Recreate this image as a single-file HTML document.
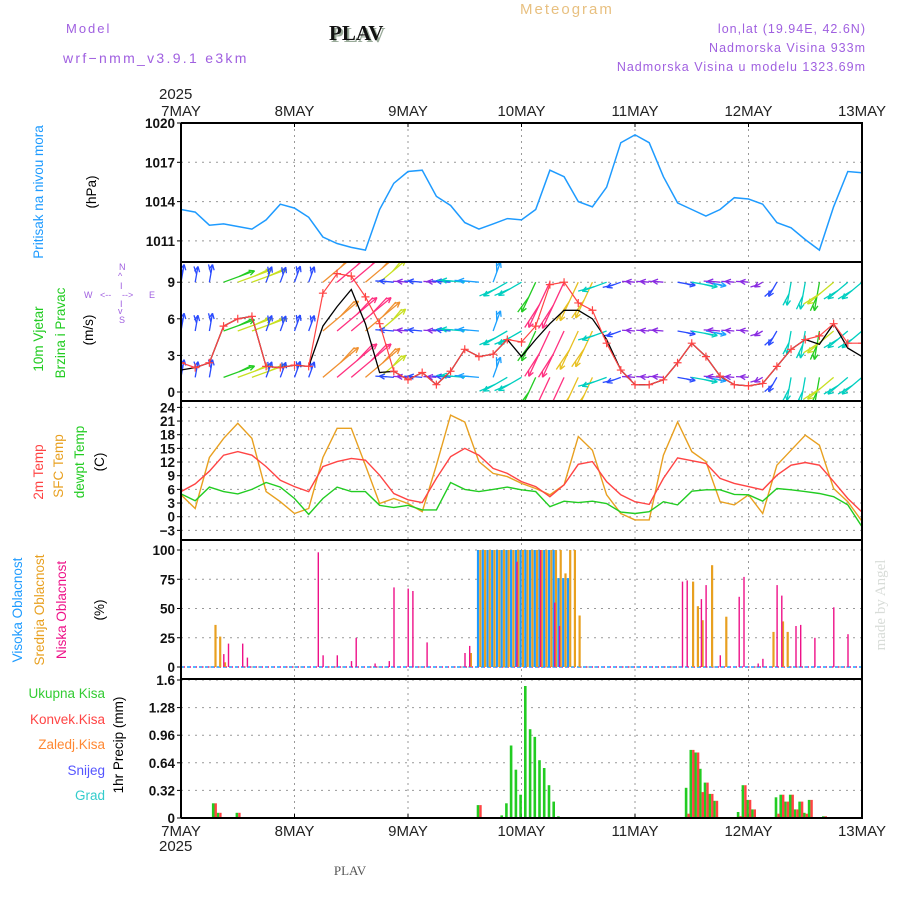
<!DOCTYPE html>
<html><head><meta charset="utf-8"><style>
body{margin:0;background:#fff;}
svg{display:block;font-family:"Liberation Sans",sans-serif;}
</style></head><body>
<svg id="chart" width="900" height="900" viewBox="0 0 900 900">
<g id="header">
<text x="520" y="14" fill="#e8c080" font-size="15" letter-spacing="2">Meteogram</text>
<text x="66" y="33" fill="#a060e0" font-size="13" letter-spacing="2">Model</text>
<text x="63" y="63" fill="#a060e0" font-size="14" letter-spacing="2.3">wrf−nmm_v3.9.1 e3km</text>
<text x="331" y="42" fill="#9a9" font-size="21" font-weight="bold" font-family="Liberation Serif,serif">PLAV</text>
<text x="329" y="40" fill="#111" font-size="21" font-weight="bold" font-family="Liberation Serif,serif">PLAV</text>
<text x="866" y="33" fill="#a060e0" font-size="12.5" letter-spacing="1" text-anchor="end">lon,lat (19.94E, 42.6N)</text>
<text x="866" y="52" fill="#a060e0" font-size="12.5" letter-spacing="1" text-anchor="end">Nadmorska Visina 933m</text>
<text x="866" y="71" fill="#a060e0" font-size="12.5" letter-spacing="1" text-anchor="end">Nadmorska Visina u modelu 1323.69m</text>
<text x="159" y="99" fill="#222" font-size="15">2025</text>
<text x="159" y="851" fill="#222" font-size="15">2025</text>
<text x="350" y="875" fill="#555" font-size="13" font-family="Liberation Serif,serif" text-anchor="middle">PLAV</text>
<text transform="translate(885,605) rotate(-90)" fill="#d8dcd8" font-size="15" text-anchor="middle" font-family="Liberation Serif,serif">made by Angel</text>
</g>
<g id="labels" font-size="13.5">
<text transform="translate(43,192) rotate(-90)" fill="#1e9bff" text-anchor="middle">Pritisak na nivou mora</text>
<text transform="translate(96,192) rotate(-90)" fill="#000" text-anchor="middle">(hPa)</text>
<text transform="translate(43,339) rotate(-90)" fill="#22cc22" text-anchor="middle">10m Vjetar</text>
<text transform="translate(65,333) rotate(-90)" fill="#22cc22" text-anchor="middle">Brzina i Pravac</text>
<text transform="translate(93,330) rotate(-90)" fill="#000" text-anchor="middle">(m/s)</text>
<text transform="translate(43,472) rotate(-90)" fill="#ff4444" text-anchor="middle">2m Temp</text>
<text transform="translate(63,466) rotate(-90)" fill="#e8a020" text-anchor="middle">SFC Temp</text>
<text transform="translate(84,462) rotate(-90)" fill="#22cc22" text-anchor="middle">dewpt Temp</text>
<text transform="translate(104,462) rotate(-90)" fill="#000" text-anchor="middle">(C)</text>
<text transform="translate(22,610) rotate(-90)" fill="#1e9bff" text-anchor="middle">Visoka Oblacnost</text>
<text transform="translate(44,610) rotate(-90)" fill="#e8a020" text-anchor="middle">Srednja Oblacnost</text>
<text transform="translate(66,610) rotate(-90)" fill="#ee1188" text-anchor="middle">Niska Oblacnost</text>
<text transform="translate(104,610) rotate(-90)" fill="#000" text-anchor="middle">(%)</text>
<text x="105" y="698" fill="#33cc33" text-anchor="end">Ukupna Kisa</text>
<text x="105" y="724" fill="#ff4444" text-anchor="end">Konvek.Kisa</text>
<text x="105" y="749" fill="#ff8833" text-anchor="end">Zaledj.Kisa</text>
<text x="105" y="775" fill="#5555ff" text-anchor="end">Snijeg</text>
<text x="105" y="800" fill="#33cccc" text-anchor="end">Grad</text>
<text transform="translate(123,745) rotate(-90)" fill="#000" text-anchor="middle">1hr Precip (mm)</text>
<g fill="#a060e0" font-size="9">
<text x="119" y="270">N</text><text x="118" y="279">^</text><text x="120" y="289">I</text>
<text x="100" y="298">&lt;--</text><text x="122" y="298">--&gt;</text><text x="149" y="298">E</text><text x="84" y="298">W</text>
<text x="120" y="307">I</text><text x="118" y="314">v</text><text x="119" y="323">S</text>
</g>
</g>
<g id="grid"></g>
<g id="marks"></g>
<g id="frames"></g>
</svg>
<script>
// ---- data (3-hourly, hours 0..144 from 7 MAY 00 UTC) ----
const days = ["7MAY","8MAY","9MAY","10MAY","11MAY","12MAY","13MAY"];
const pressure = [1013.4,1013.2,1012.2,1012.3,1012.1,1011.9,1012.6,1013.8,1013.5,1012.8,1011.3,1010.8,1010.5,1010.3,1013.4,1015.4,1016.3,1016.4,1014.4,1013.7,1012.4,1011.9,1012.3,1012.7,1012.6,1013.4,1016.4,1015.9,1014.0,1013.6,1015.1,1018.5,1019.1,1018.5,1015.9,1013.9,1013.4,1012.9,1013.4,1014.3,1014.2,1013.8,1012.4,1012.0,1011.1,1010.3,1013.6,1016.3,1016.2];
const temp2m = [5.5,7.2,10.0,13.5,14.3,13.5,11.0,8.0,6.6,5.5,11.0,12.1,12.8,12.4,9.1,5.1,3.7,3.1,8.4,13.2,15.0,13.5,10.6,9.5,7.7,6.6,4.4,7.0,11.5,12.1,7.7,4.8,3.3,2.7,8.4,12.9,12.3,11.7,8.4,7.3,6.6,5.9,9.1,11.3,11.9,11.3,7.7,4.0,1.0];
const tempSfc = [4.8,1.8,13.0,17.2,20.5,17.2,5.5,3.3,0.7,1.8,13.0,19.4,19.4,11.3,2.9,4.0,2.9,1.1,11.3,22.3,20.8,12.1,9.5,8.8,7.3,6.2,4.8,7.0,17.6,14.6,4.8,0.7,-0.7,-0.7,13.5,20.8,14.3,12.1,3.3,2.6,4.8,0.7,11.3,14.6,17.9,15.7,6.2,3.3,-1.0];
const dewpt = [5,3.5,6.5,5.5,5,6,7.5,6.5,4,0.5,4,6.5,5.5,5.5,2.5,2,2.5,1.5,1.5,7.5,6,5.5,6,6.5,5.9,5.5,2.2,3.4,3.1,3.4,2.9,1.0,0.7,1.1,3.3,2.6,5.6,5.9,5.9,4.9,4.8,3.4,6.2,5.9,5.5,5.1,4.4,2.6,-2.2];
const windSpeed = [2.4,2.0,2.4,5.4,6.0,6.2,2.1,2.0,2.2,2.1,8.1,9.7,9.5,7.8,5.6,1.7,1.0,1.6,0.6,1.7,3.5,2.9,3.1,4.3,4.1,5.4,8.8,9.0,7.3,6.7,4.0,1.8,0.6,0.6,1.0,2.4,4.0,2.9,1.3,0.6,0.5,0.7,2.1,3.5,4.3,4.6,5.6,4.0,4.0];
const windMean = [1.8,2.0,2.4,5.4,6.0,6.2,2.1,2.0,2.2,2.1,5.4,7.0,8.4,5.6,1.6,1.7,1.0,1.6,0.6,1.7,3.5,2.9,3.1,4.3,2.9,4.3,5.6,6.7,6.7,6.0,4.3,1.8,0.6,0.6,1.0,2.4,4.0,2.9,1.3,0.6,0.5,0.7,2.1,3.5,4.3,3.9,5.6,3.6,2.9];
const windDir = [80,80,80,20,20,20,70,70,70,70,40,40,40,40,40,175,175,175,175,175,175,175,70,-150,-150,-115,-115,-115,-115,-115,-160,-160,175,175,175,-10,-10,-10,175,175,175,-150,-120,-100,-100,-100,-140,-140,-140];
const windRows = [9, 5, 1.2];
// clouds (hourly bars): hours and percent
const highHours = [63,64,65,66,67,68,69,70,71,72,73,74,75,76,77,78,79,80,81,82];
const highVals  = [100,100,100,100,100,100,100,100,100,100,100,100,100,100,100,100,100,76,76,76];
const midHours = [7,8,9,61,63,64,65,66,67,68,69,70,71,72,73,74,75,76,77,78,79,80,81,82,83,84,108,109,110,112,115,125,127,128];
const midVals  = [36,26,4,12,100,100,100,100,100,100,100,100,100,100,100,100,100,100,100,100,100,100,80,100,100,44,73,52,40,87,43,30,39,30];
const lowHours = [9,10,13,14,29,30,33,36,37,41,44,45,48,49,52,60,61,71,76,79,80,106,107,110,111,114,118,119,122,123,126,127,130,131,134,138,141];
const lowVals  = [11,20,20,8,98,10,10,5,25,3,5,68,67,65,21,12,18,90,100,55,35,73,74,58,70,10,60,77,3,7,70,61,35,36,25,51,28];
// precipitation (hourly)
const rainHours = [7,8,10,12,61,63,68,69,70,71,72,73,74,75,76,77,78,79,80,107,108,109,110,111,112,113,118,119,120,121,126,127,128,129,130,131,132,133,136];
const rainTotal = [0.17,0.06,0.01,0.06,0.01,0.15,0.03,0.17,0.84,0.56,0.27,1.53,1.03,0.94,0.67,0.58,0.38,0.19,0.02,0.35,0.79,0.76,0.57,0.41,0.28,0.2,0.07,0.38,0.21,0.1,0.24,0.27,0.19,0.27,0.1,0.19,0.06,0.21,0.02];
const rainConv  = [0.17,0.06,0,0.06,0,0.15,0,0,0,0,0,0,0,0,0,0,0,0,0,0.05,0.79,0.76,0.3,0.41,0.28,0.2,0.02,0.38,0.21,0.1,0.05,0.27,0.19,0.27,0.1,0.19,0.05,0.21,0.02];
const pTicks = [1011,1014,1017,1020];
const wTicks = [0,3,6,9];
const tTicks = [-3,0,3,6,9,12,15,18,21,24];
const cTicks = [0,25,50,75,100];
const rTicks = ["0","0.32","0.64","0.96","1.28","1.6"];

// ---- scales ----
const X0=181, X1=862, HOURS=144;
const X = h => X0 + h*(X1-X0)/HOURS;
const yP = v => 123 + (1020-v)*13.1;
const yW = v => 392 - v*12.2;
const yT = v => 516.7 - v*4.555;
const yC = v => 667 - v*1.17;
const yR = v => 818 - v*86.25;
const panels = [[123,262],[262,401],[401,540],[540,679],[679,818]];
const NS="http://www.w3.org/2000/svg";
function mk(tag, attrs, parent){const e=document.createElementNS(NS,tag);for(const k in attrs)e.setAttribute(k,attrs[k]);parent.appendChild(e);return e;}
const grid=document.getElementById('grid'), marks=document.getElementById('marks'), frames=document.getElementById('frames');

// clip paths
const defs=mk('defs',{},document.getElementById('chart'));
panels.forEach((p,i)=>{const c=mk('clipPath',{id:'clip'+i},defs);mk('rect',{x:X0,y:p[0],width:X1-X0,height:p[1]-p[0]},c);});

// vertical day grid + labels
days.forEach((d,i)=>{
  const x=X(i*24);
  if(i>0&&i<6){const l=mk('line',{x1:x,y1:123,x2:x,y2:818,stroke:'#999','stroke-dasharray':'2,4'},grid);
    
    }
  const t1=mk('text',{x:x,y:116,'text-anchor':'middle','font-size':15,fill:'#222'},grid);t1.textContent=d;
  
  
  const t2=mk('text',{x:x,y:836,'text-anchor':'middle','font-size':15,fill:'#222'},grid);t2.textContent=d;
  
  
  [[123,127],[814,818]].forEach(a=>mk('line',{x1:x,y1:a[0],x2:x,y2:a[1],stroke:'#000'},grid));
});
function yticks(ticks, fy, name){
  ticks.forEach(t=>{const y=fy(parseFloat(t));
    mk('line',{x1:X0,y1:y,x2:X1,y2:y,stroke:'#999','stroke-dasharray':'2,5'},grid);
    mk('line',{x1:X0-4,y1:y,x2:X0,y2:y,stroke:'#000'},grid);
    const tx=mk('text',{x:X0-6,y:y+5,'text-anchor':'end','font-size':13.5,'font-weight':'bold',fill:'#111'},grid);tx.textContent=(typeof t==='number'&&t<0)?'−'+(-t):t;
    
    });
}
yticks(pTicks,yP,'pressure-tick');yticks(wTicks,yW,'wind-tick');yticks(tTicks,yT,'temp-tick');yticks(cTicks,yC,'cloud-tick');yticks(rTicks,yR,'precip-tick');

function line(arr, fy, color, clip, name, w){
  const pts=arr.map((v,i)=>X(i*3).toFixed(1)+','+fy(v).toFixed(1)).join(' ');
  const p=mk('polyline',{points:pts,fill:'none',stroke:color,'stroke-width':w||1.4,'clip-path':'url(#clip'+clip+')'},marks);
  
  
  return p;
}
// pressure
line(pressure,yP,'#1e9bff',0,'pressure-line',1.5);

// wind arrows
function windColor(s){
  if(s<1.5) return '#8a2be2'; if(s<2.5) return '#2a4bff'; if(s<3.5) return '#1aa0ff';
  if(s<4.5) return '#00cfc0'; if(s<5.5) return '#22cc22'; if(s<6.5) return '#c8e020';
  if(s<7.5) return '#e8c020'; if(s<8.5) return '#f09030'; return '#ff3080';
}
const wg=mk('g',{'clip-path':'url(#clip1)'},marks);


windRows.forEach(r=>{
  windSpeed.forEach((s,i)=>{
    const x=X(i*3), y=yW(r), L=Math.min(6+s*5,52), a=windDir[i]*Math.PI/180;
    const x2=x+L*Math.cos(a), y2=y-L*Math.sin(a), c=windColor(s);
    const g=mk('g',{stroke:c,'stroke-width':1.3,fill:'none'},wg);
    
    
    mk('line',{x1:x,y1:y,x2:x2,y2:y2},g);
    [0.45,-0.45].forEach(d=>{mk('line',{x1:x2,y1:y2,x2:x2-6*Math.cos(a+d),y2:y2+6*Math.sin(a+d)},g);});
    const xm=(x+x2)/2, ym=(y+y2)/2;
    mk('line',{x1:xm,y1:ym,x2:xm+L*0.5*Math.cos(a)-4,y2:ym-L*0.5*Math.sin(a)},g);
  });
});
line(windMean,yW,'#000',1,'wind-mean-line',1.3);
line(windSpeed,yW,'#ff4444',1,'wind-gust-line',1.2);
windSpeed.forEach((v,i)=>{const x=X(i*3),y=yW(v);
  const m=mk('path',{d:`M${x-4},${y}h8M${x},${y-4}v8`,stroke:'#ff4444','stroke-width':1.2,'clip-path':'url(#clip1)'},marks);
  
  });

// temperatures
line(tempSfc,yT,'#e8a020',2,'sfc-temp-line',1.4);
line(temp2m,yT,'#ff4444',2,'temp-2m-line',1.4);
line(dewpt,yT,'#22cc22',2,'dewpoint-line',1.4);

// clouds
mk('line',{x1:X0,y1:yC(0),x2:X1,y2:yC(0),stroke:'#1e9bff','stroke-dasharray':'3,3','stroke-width':1.5},marks);
mk('line',{x1:X0+3,y1:yC(0),x2:X1,y2:yC(0),stroke:'#ee1188','stroke-dasharray':'1,5','stroke-width':1.5},marks);
function bars(hours, vals, fy, color, off, w, name, clip){
  hours.forEach((h,i)=>{const x=X(h)+off, y=fy(vals[i]);
    const r=mk('rect',{x:x.toFixed(1),y:y.toFixed(1),width:w,height:Math.max(0,fy(0)-y).toFixed(1),fill:color,'clip-path':'url(#clip'+clip+')'},marks);
    
    });
}
bars(highHours,highVals,yC,'#1e9bff',-2,2.2,'high-cloud-bar',3);
bars(midHours,midVals,yC,'#e8a020',0.3,2.2,'mid-cloud-bar',3);
bars(lowHours,lowVals,yC,'#ee1188',-0.5,1.4,'low-cloud-bar',3);

// precipitation
bars(rainHours,rainTotal,yR,'#22cc22',-2.2,2.6,'total-precip-bar',4);
bars(rainHours,rainConv,yR,'#ff4444',0.4,2.4,'convective-precip-bar',4);

// frames
panels.forEach(p=>{mk('line',{x1:X0,y1:p[0],x2:X1+1,y2:p[0],stroke:'#000','stroke-width':2},frames);});
mk('line',{x1:X0,y1:818,x2:X1+1,y2:818,stroke:'#000','stroke-width':2},frames);
mk('line',{x1:X0,y1:123,x2:X0,y2:818,stroke:'#000','stroke-width':2},frames);
mk('line',{x1:X1,y1:123,x2:X1,y2:818,stroke:'#000','stroke-width':2},frames);
</script>
</body></html>
